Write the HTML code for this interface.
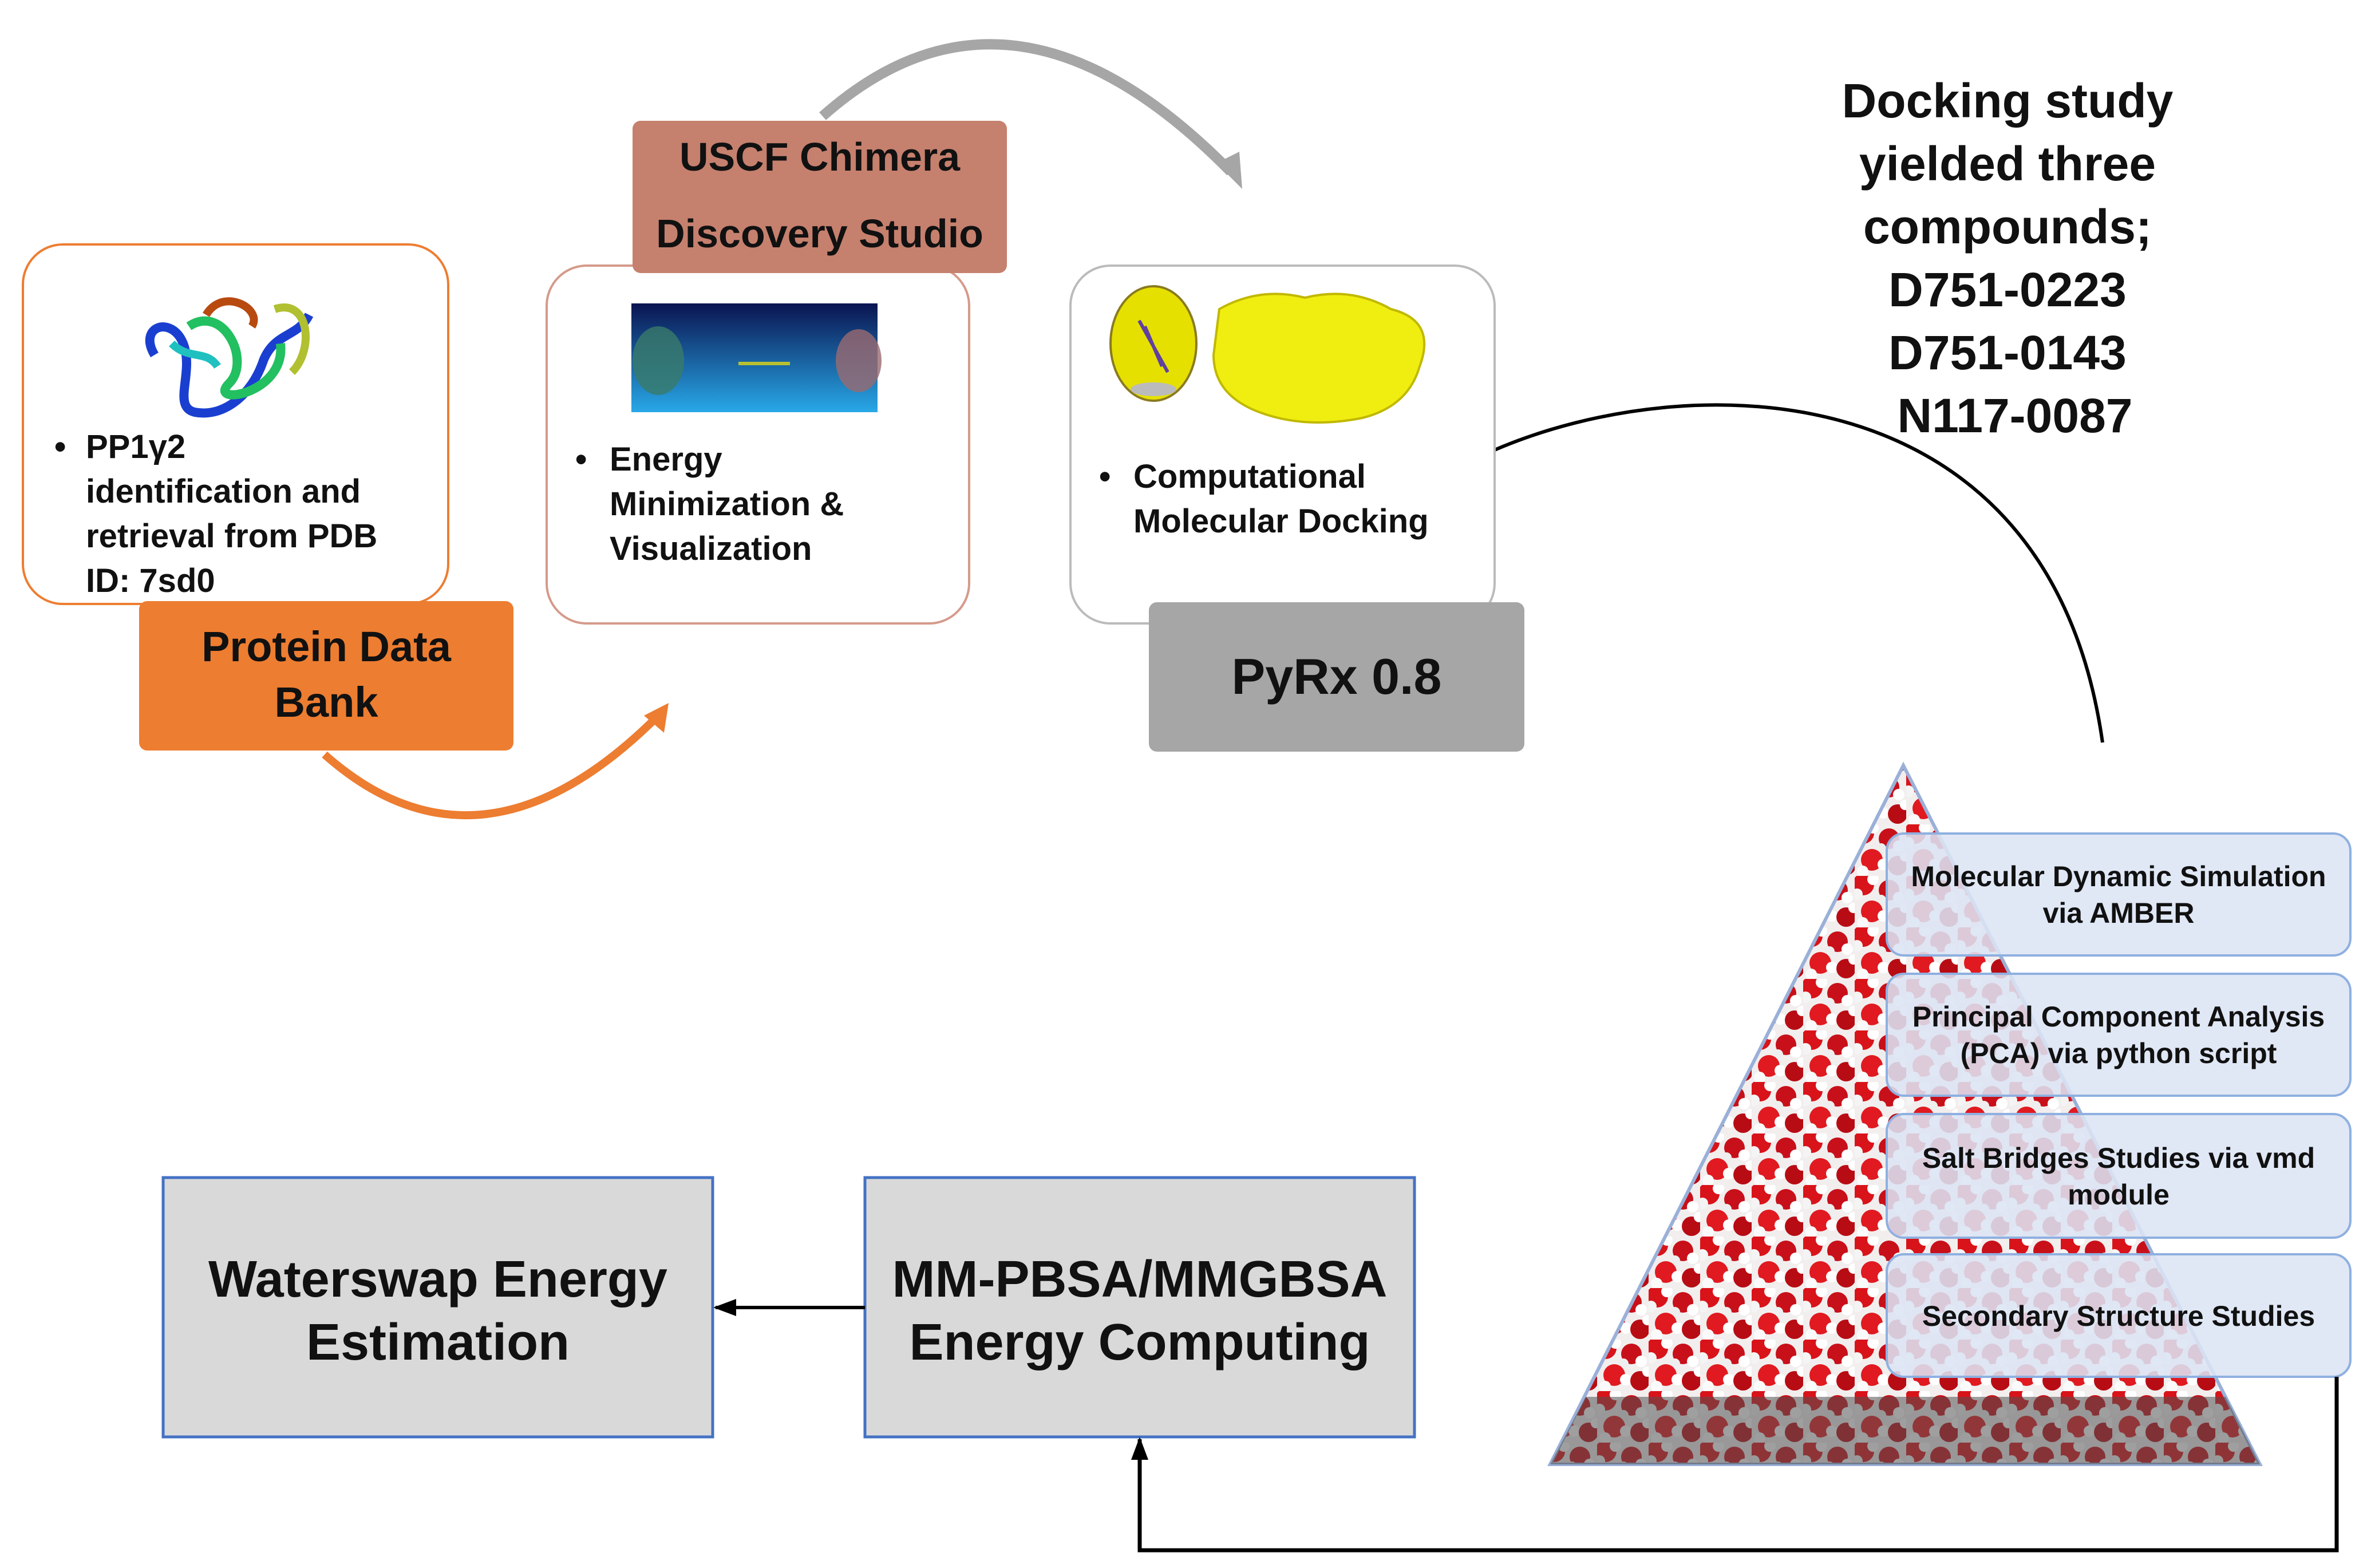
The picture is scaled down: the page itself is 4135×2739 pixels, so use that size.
<!DOCTYPE html>
<html><head><meta charset="utf-8"><style>
html,body{margin:0;padding:0;background:#fff;}
svg{display:block;}
text{font-family:"Liberation Sans",sans-serif;font-weight:bold;fill:#111;}
</style></head><body>
<svg width="4135" height="2739" viewBox="0 0 4135 2739" xmlns="http://www.w3.org/2000/svg">
<defs>
<pattern id="mol" width="90" height="90" patternUnits="userSpaceOnUse">
<rect width="90" height="90" fill="#f2eeee"/>
<circle cx="15" cy="15" r="19" fill="#d9131a"/><circle cx="32" cy="6" r="10" fill="#fff"/><circle cx="4" cy="32" r="10" fill="#f4f4f4"/>
<circle cx="60" cy="25" r="18" fill="#c8101a"/><circle cx="77" cy="38" r="10" fill="#fff"/><circle cx="46" cy="42" r="9" fill="#eee"/>
<circle cx="30" cy="62" r="19" fill="#e01a20"/><circle cx="50" cy="70" r="10" fill="#fff"/><circle cx="14" cy="82" r="10" fill="#fafafa"/>
<circle cx="75" cy="72" r="17" fill="#b80c14"/><circle cx="88" cy="56" r="9" fill="#fff"/>
</pattern>
<marker id="ab" markerWidth="40" markerHeight="30" refX="36" refY="15" orient="auto" markerUnits="userSpaceOnUse" viewBox="0 0 40 30"><path d="M0,0 L40,15 L0,30z" fill="#000"/></marker>
</defs>

<!-- arcs -->
<path d="M1437,203 Q1767,-90 2150,300" fill="none" stroke="#a6a6a6" stroke-width="18"/>
<path d="M2125,285 L2170,330 L2165,265z" fill="#a6a6a6"/>
<path d="M567,1318 Q840,1560 1150,1250" fill="none" stroke="#ed7d31" stroke-width="14"/>
<path d="M1125,1250 L1168,1228 L1160,1280z" fill="#ed7d31"/>
<path d="M2611,786 C2950,640 3580,640 3673,1297" fill="none" stroke="#000" stroke-width="6"/>

<!-- box 1 -->
<rect x="40" y="427" width="743" height="628" rx="70" fill="#fff" stroke="#ed7d31" stroke-width="4"/>
<g transform="translate(240,510)">
<path d="M30,110 C0,60 60,40 80,90 C100,140 60,200 100,210 C150,220 200,180 220,120 C240,70 280,80 300,40" fill="none" stroke="#1a3fd0" stroke-width="16"/>
<path d="M90,60 C150,20 200,120 160,160 C120,200 260,180 250,90" fill="none" stroke="#22c060" stroke-width="16"/>
<path d="M120,40 C150,-10 220,30 200,60" fill="none" stroke="#b84a10" stroke-width="14"/>
<path d="M240,30 C300,10 310,100 270,140" fill="none" stroke="#b0c030" stroke-width="14"/>
<path d="M60,90 C90,120 120,100 140,130" fill="none" stroke="#20c0c0" stroke-width="14"/>
</g>
<text font-size="58"><tspan x="95" y="800">•</tspan><tspan x="150" y="800">PP1γ2</tspan><tspan x="150" y="878">identification and</tspan><tspan x="150" y="956">retrieval from PDB</tspan><tspan x="150" y="1034">ID: 7sd0</tspan></text>
<rect x="243" y="1050" width="654" height="261" rx="14" fill="#ed7d31"/>
<text font-size="74" text-anchor="middle"><tspan x="570" y="1155">Protein Data</tspan><tspan x="570" y="1252">Bank</tspan></text>

<!-- box 2 -->
<rect x="955" y="464" width="738" height="625" rx="70" fill="#fff" stroke="#d59a8a" stroke-width="4"/>
<defs><linearGradient id="bg" x1="0" y1="0" x2="0" y2="1"><stop offset="0" stop-color="#0a1450"/><stop offset="1" stop-color="#28a8e8"/></linearGradient></defs>
<rect x="1103" y="530" width="430" height="190" fill="url(#bg)"/>
<ellipse cx="1150" cy="630" rx="45" ry="60" fill="#3a7a6a" opacity="0.8"/>
<ellipse cx="1500" cy="630" rx="40" ry="55" fill="#9a6a70" opacity="0.8"/>
<rect x="1290" y="632" width="90" height="6" fill="#b8c030"/>
<text font-size="58"><tspan x="1005" y="822">•</tspan><tspan x="1065" y="822">Energy</tspan><tspan x="1065" y="900">Minimization &amp;</tspan><tspan x="1065" y="978">Visualization</tspan></text>
<rect x="1105" y="211" width="654" height="266" rx="14" fill="#c6806e"/>
<text font-size="70" text-anchor="middle"><tspan x="1432" y="298">USCF Chimera</tspan><tspan x="1432" y="432">Discovery Studio</tspan></text>

<!-- box 3 -->
<rect x="1870" y="464" width="741" height="625" rx="70" fill="#fff" stroke="#bbb" stroke-width="4"/>
<ellipse cx="2015" cy="600" rx="75" ry="100" fill="#e6e000" stroke="#8a7a20" stroke-width="4"/>
<ellipse cx="2015" cy="680" rx="40" ry="12" fill="#bbb"/>
<path d="M2130,540 Q2200,500 2280,520 Q2360,500 2430,540 Q2510,560 2480,640 Q2460,710 2380,730 Q2280,750 2200,720 Q2120,690 2120,620z" fill="#f0ee10" stroke="#c0b800" stroke-width="4"/>
<path d="M1990,560 L2040,650 M2000,570 L2030,640" stroke="#6040a0" stroke-width="6"/>
<text font-size="58"><tspan x="1920" y="852">•</tspan><tspan x="1980" y="852">Computational</tspan><tspan x="1980" y="930">Molecular Docking</tspan></text>
<rect x="2007" y="1052" width="656" height="261" rx="14" fill="#a6a6a6"/>
<text font-size="88" x="2335" y="1212" text-anchor="middle">PyRx 0.8</text>

<!-- docking text -->
<text font-size="84" text-anchor="middle"><tspan x="3507" y="205">Docking study</tspan><tspan x="3507" y="315">yielded three</tspan><tspan x="3507" y="425">compounds;</tspan><tspan x="3507" y="535">D751-0223</tspan><tspan x="3507" y="645">D751-0143</tspan><tspan x="3520" y="755">N117-0087</tspan></text>

<!-- pyramid -->
<path d="M3325,1337 L3948,2558 L2708,2558z" fill="url(#mol)" stroke="#9ab0d8" stroke-width="6"/>
<path d="M2770,2440 L3888,2440 L3948,2558 L2708,2558z" fill="#505050" opacity="0.55"/>
<g text-anchor="middle">
<rect x="3296" y="1456" width="810" height="213" rx="30" fill="#dce4f4" fill-opacity="0.88" stroke="#8fb0e0" stroke-width="4"/>
<text x="3701" y="1548" font-size="50">Molecular Dynamic Simulation</text><text x="3701" y="1612" font-size="50">via AMBER</text>
<rect x="3296" y="1701" width="810" height="213" rx="30" fill="#dce4f4" fill-opacity="0.88" stroke="#8fb0e0" stroke-width="4"/>
<text x="3701" y="1793" font-size="50">Principal Component Analysis</text><text x="3701" y="1857" font-size="50">(PCA) via python script</text>
<rect x="3296" y="1946" width="810" height="216" rx="30" fill="#dce4f4" fill-opacity="0.88" stroke="#8fb0e0" stroke-width="4"/>
<text x="3701" y="2040" font-size="50">Salt Bridges Studies via vmd</text><text x="3701" y="2104" font-size="50">module</text>
<rect x="3296" y="2191" width="810" height="214" rx="30" fill="#dce4f4" fill-opacity="0.88" stroke="#8fb0e0" stroke-width="4"/>
<text x="3701" y="2316" font-size="50">Secondary Structure Studies</text>
</g>

<!-- bottom boxes -->
<rect x="285" y="2057" width="960" height="453" fill="#d9d9d9" stroke="#4472c4" stroke-width="5"/>
<text font-size="90" text-anchor="middle"><tspan x="765" y="2265">Waterswap Energy</tspan><tspan x="765" y="2375">Estimation</tspan></text>
<rect x="1511" y="2057" width="960" height="453" fill="#d9d9d9" stroke="#4472c4" stroke-width="5"/>
<text font-size="90" text-anchor="middle"><tspan x="1991" y="2265">MM-PBSA/MMGBSA</tspan><tspan x="1991" y="2375">Energy Computing</tspan></text>
<line x1="1511" y1="2284" x2="1250" y2="2284" stroke="#000" stroke-width="6" marker-end="url(#ab)"/>
<path d="M4082,2405 L4082,2708 L1991,2708 L1991,2514" fill="none" stroke="#000" stroke-width="7" marker-end="url(#ab)"/>
</svg>
</body></html>
